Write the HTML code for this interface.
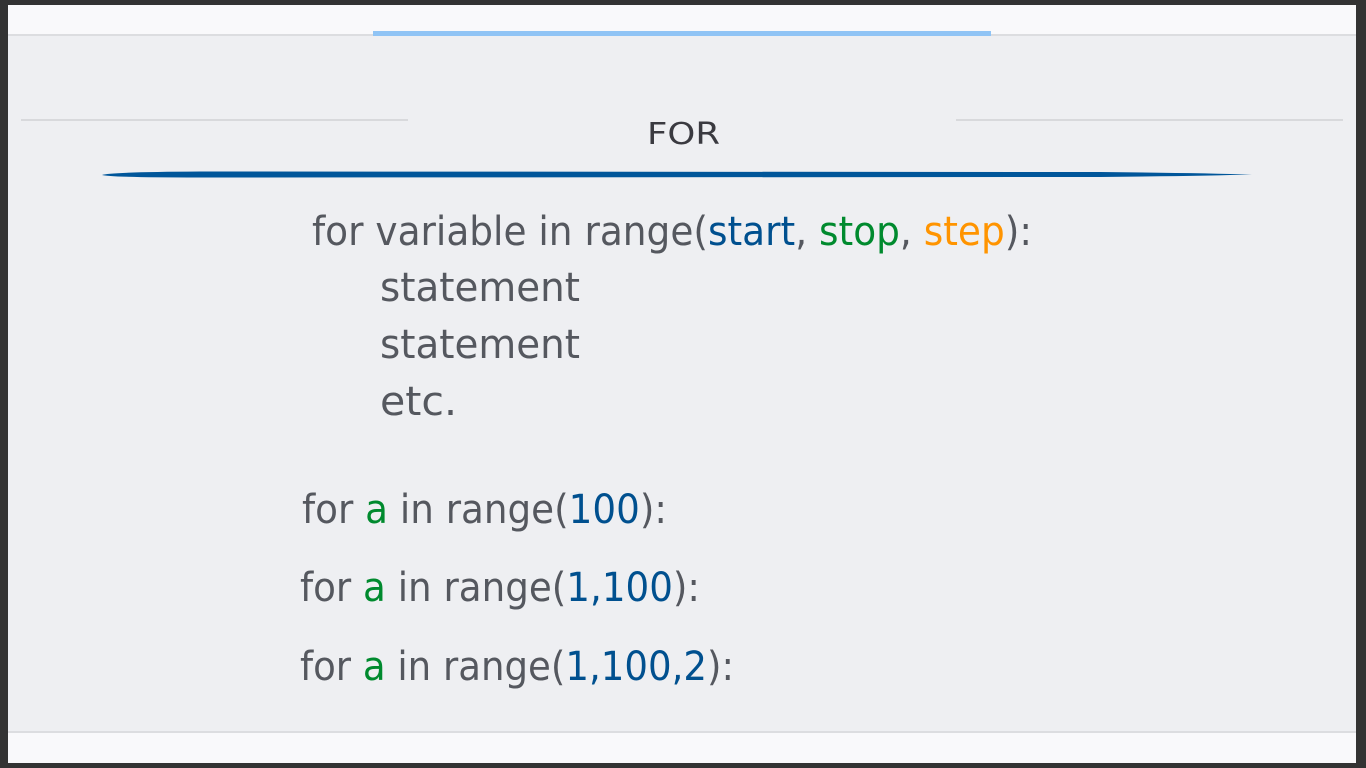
<!DOCTYPE html>
<html><head><meta charset="utf-8"><style>
html,body{margin:0;padding:0;width:1366px;height:768px;overflow:hidden;background:#333333;}
svg{display:block}
text{font-family:"DejaVu Sans","Liberation Sans",sans-serif;}
</style></head><body>
<svg width="1366" height="768" viewBox="0 0 1366 768">
<rect x="0" y="0" width="1366" height="768" fill="#333333"/>
<rect x="8" y="5" width="1348" height="758" fill="#eeeff2"/>
<rect x="8" y="5" width="1348" height="30" fill="#f9f9fb"/>
<rect x="8" y="34" width="1348" height="2" fill="#dcdde0"/>
<rect x="373" y="31" width="618" height="5" fill="#90c4f5"/>
<rect x="8" y="733" width="1348" height="30" fill="#f9f9fb"/>
<rect x="8" y="731" width="1348" height="2" fill="#dcdde0"/>
<rect x="21" y="119" width="387" height="2" fill="#d8d9dc"/>
<rect x="956" y="119" width="387" height="2" fill="#d8d9dc"/>
<path d="M102 175 Q110 172 200 171.5 L1100 172 Q1200 173 1252 174.5 Q1200 176 1100 177 L200 177.5 Q110 177.5 102 175 Z" fill="#00569a"/>
<text x="647" y="144" font-size="30" fill="#3a3a40" textLength="73" lengthAdjust="spacingAndGlyphs">FOR</text>
<g font-size="40" fill="#55585f">
<text x="312" y="245" textLength="720" lengthAdjust="spacingAndGlyphs">for variable in range(<tspan fill="#00508f">start</tspan>, <tspan fill="#008a2e">stop</tspan>, <tspan fill="#ff9400">step</tspan>):</text>
<text x="380" y="301" textLength="200" lengthAdjust="spacingAndGlyphs">statement</text>
<text x="380" y="358" textLength="200" lengthAdjust="spacingAndGlyphs">statement</text>
<text x="380" y="415" textLength="77" lengthAdjust="spacingAndGlyphs">etc.</text>
<text x="302" y="523" textLength="365" lengthAdjust="spacingAndGlyphs">for <tspan fill="#008a2e">a</tspan> in range(<tspan fill="#00508f">100</tspan>):</text>
<text x="300" y="601" textLength="400" lengthAdjust="spacingAndGlyphs">for <tspan fill="#008a2e">a</tspan> in range(<tspan fill="#00508f">1,100</tspan>):</text>
<text x="300" y="680" textLength="434" lengthAdjust="spacingAndGlyphs">for <tspan fill="#008a2e">a</tspan> in range(<tspan fill="#00508f">1,100,2</tspan>):</text>
</g>
</svg>
</body></html>
